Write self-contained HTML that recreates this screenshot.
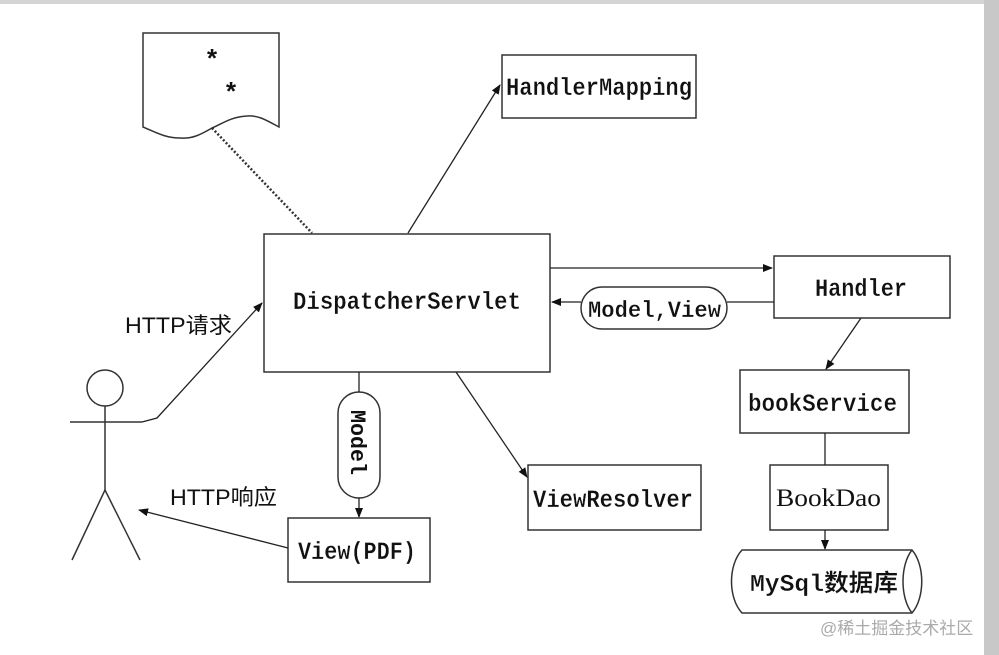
<!DOCTYPE html>
<html><head><meta charset="utf-8"><style>
html,body{margin:0;padding:0;background:#fff;width:999px;height:655px;overflow:hidden}
svg{display:block}
text{font-family:"Liberation Mono","Noto Sans CJK SC",monospace;fill:#111}
</style></head><body>
<svg width="999" height="655" viewBox="0 0 999 655">
<defs><marker id="a" markerWidth="10" markerHeight="10" refX="9" refY="5" orient="auto" markerUnits="userSpaceOnUse"><path d="M0,1 L10,5 L0,9 Z" fill="#111"/></marker></defs>
<rect x="0" y="0" width="999" height="4" fill="#d4d4d4"/>
<rect x="984" y="0" width="15" height="655" fill="#c8c8c8"/>
<g stroke="#333" stroke-width="1.5" fill="none">
<path d="M143,33 L279,33 L279,127 C266,120 258,115 247,116 C230,117 222,124 212,128 C200,135 192,139 180,138 C165,138 155,132 143,127 Z"/>
<line x1="212" y1="128" x2="312" y2="233" stroke-dasharray="2,2" stroke-width="2.5"/>
<rect x="502" y="55" width="194" height="63"/>
<rect x="264" y="234" width="286" height="138"/>
<rect x="774" y="256" width="176" height="62"/>
<rect x="740" y="370" width="169" height="63"/>
<rect x="770" y="465" width="118" height="65"/>
<rect x="528" y="465" width="173" height="65"/>
<rect x="288" y="518" width="142" height="64"/>
<rect x="581" y="287" width="146" height="42" rx="21"/>
<rect x="338" y="392" width="42" height="106" rx="21"/>
<path d="M742,550 L912,550 C925,565 925,598 912,613 L742,613 C728,598 728,565 742,550 Z"/>
<path d="M912,550 C900,565 900,598 912,613"/>
<circle cx="105" cy="388" r="18"/>
<line x1="105" y1="406" x2="105" y2="490"/>
<line x1="70" y1="422" x2="142" y2="422"/>
<path d="M72,560 L105,490 L140,560"/>
</g>
<g stroke="#222" stroke-width="1.3" fill="none" marker-end="url(#a)">
<polyline points="142,422 157,418 262,303"/>
<line x1="408" y1="233" x2="500" y2="85"/>
<line x1="550" y1="268" x2="772" y2="268"/>
<line x1="581" y1="302" x2="552" y2="302"/>
<line x1="861" y1="318" x2="826" y2="369"/>
<line x1="825" y1="530" x2="825" y2="549"/>
<line x1="456" y1="372" x2="527" y2="477"/>
<line x1="359" y1="498" x2="359" y2="517"/>
<line x1="288" y1="548" x2="139" y2="510"/>
</g>
<g stroke="#222" stroke-width="1.3">
<line x1="727" y1="302" x2="774" y2="302"/>
<line x1="825" y1="433" x2="825" y2="465"/>
<line x1="359" y1="372" x2="359" y2="392"/>
</g>
<text x="212" y="68" font-size="26" font-weight="bold" text-anchor="middle">*</text>
<text x="231" y="101" font-size="26" font-weight="bold" text-anchor="middle">*</text>
<g font-size="25" font-weight="bold" style="stroke:#fff;stroke-width:0.3">
<text x="506" y="95" textLength="186" lengthAdjust="spacingAndGlyphs">HandlerMapping</text>
<text x="293" y="309" textLength="228" lengthAdjust="spacingAndGlyphs">DispatcherServlet</text>
<text x="815" y="296" textLength="92" lengthAdjust="spacingAndGlyphs">Handler</text>
<text x="588" y="317" font-size="23" textLength="133" lengthAdjust="spacingAndGlyphs">Model,View</text>
<text x="748" y="411" textLength="149" lengthAdjust="spacingAndGlyphs">bookService</text>
<text x="533" y="507" textLength="160" lengthAdjust="spacingAndGlyphs">ViewResolver</text>
<text x="298" y="559" textLength="118" lengthAdjust="spacingAndGlyphs">View(PDF)</text>
<text x="750" y="591" font-size="24" textLength="148" lengthAdjust="spacingAndGlyphs">MySql数据库</text>
</g>
<text x="776" y="506" font-size="25" textLength="105" lengthAdjust="spacingAndGlyphs" style="font-family:'Liberation Serif',serif">BookDao</text>
<text x="125" y="333" font-size="22" textLength="107" lengthAdjust="spacingAndGlyphs" style="font-family:'Liberation Sans','Noto Sans CJK SC',sans-serif">HTTP请求</text>
<text x="170" y="505" font-size="22" textLength="107" lengthAdjust="spacingAndGlyphs" style="font-family:'Liberation Sans','Noto Sans CJK SC',sans-serif">HTTP响应</text>
<text transform="translate(351,410) rotate(90)" font-size="22" textLength="65" lengthAdjust="spacingAndGlyphs" font-weight="bold">Model</text>
<text x="820" y="634" font-size="17" style="font-family:'Liberation Sans','Noto Sans CJK SC',sans-serif;fill:#aaa">@稀土掘金技术社区</text>
</svg>
</body></html>
